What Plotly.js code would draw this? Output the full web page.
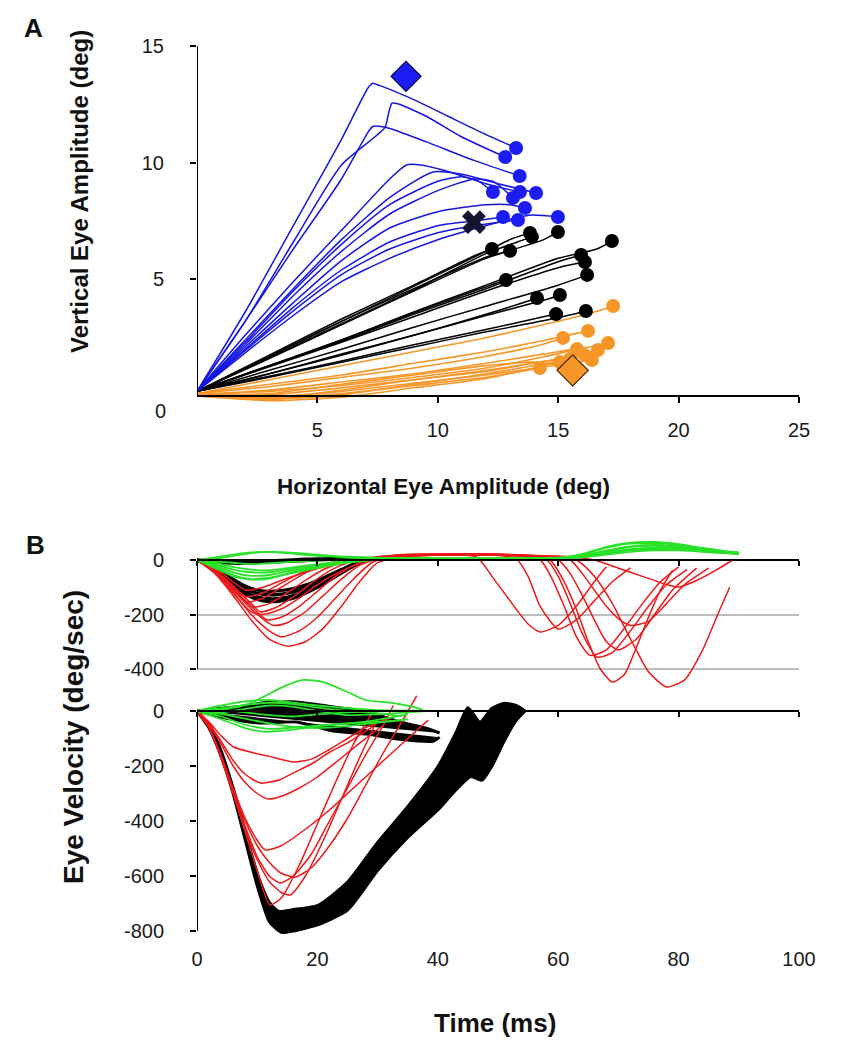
<!DOCTYPE html>
<html><head><meta charset="utf-8">
<script src="https://cdn.plot.ly/plotly-3.0.1.min.js"></script>
<style>html,body{margin:0;padding:0;background:#fff}#chart{width:847px;height:1050px}</style>
</head><body><div id="chart"></div>
<script>
// ================= Panel A : eye amplitude trajectories (deg) =================
const blueX = [
 [0,2,4,6,7.1,7.3,7.6,9,10.4,11.8,13.25],
 [0,2,4,6,7.8,7.95,8.1,8.4,9.5,11,12.8],
 [0,2,4,6,7.1,7.3,7.9,9.5,11.5,13.4],
 [0,2,4,6,8,8.7,9.3,10.5,12,13.41],
 [0,2,4,6,8,9.8,11,12.5,14.08],
 [0,2,4,6,8,10,11,11.7,12.29],
 [0,2,4,6,8,10,11.5,12.3,13.12],
 [0,2,4,6,8,10,12,13,13.62],
 [0,2,4,6,8,10,11.5,12.71],
 [0,2,4,6,8,10,11.5,13.33],
 [0,2,4,6,8,10,12,13.8,14.99]
];
const blueY = [
 [0.2,3.6,7.3,11,13.2,13.4,13.3,12.7,12,11.3,10.63],
 [0.2,3.2,6.6,9.9,11.5,12.1,12.55,12.5,12,11.1,10.24],
 [0.2,3.2,6.3,9.3,11.3,11.55,11.5,10.9,10.1,9.43],
 [0.2,2.6,4.9,7.1,9.3,9.9,9.9,9.6,9.1,8.74],
 [0.2,2.4,4.6,6.7,8.5,9.6,9.5,9.1,8.7],
 [0.2,2.3,4.5,6.5,8.2,9.2,9.4,9.2,8.74],
 [0.2,2.2,4.3,6.2,7.8,8.8,9.3,9.2,8.49],
 [0.2,2.1,4.0,5.8,7.2,7.9,8.2,8.2,8.06],
 [0.2,2.0,3.8,5.4,6.6,7.3,7.5,7.67],
 [0.2,1.95,3.65,5.2,6.3,7.0,7.3,7.54],
 [0.2,1.85,3.45,4.9,5.9,6.7,7.3,7.75,7.67]
];
const blackX = [
 [0,3,6,9,12,13.1,13.83],
 [0,3,6,9,12,13.3,13.91],
 [0,3,6,9,12,14.4,14.99],
 [0,3,6,9,11.5,12.25],
 [0,3,6,9,12,13.0],
 [0,3,6,9,12,15,16.6,17.23],
 [0,3,6,9,12,15,15.95],
 [0,3,6,9,12,15,16.11],
 [0,3,6,9,12,15,16.2],
 [0,3,6,9,11.5,12.83],
 [0,3,6,9,12,13.4,14.12],
 [0,3,6,9,12,14.4,15.07],
 [0,3,6,9,12,14.2,14.91],
 [0,3,6,9,12,15,16.15]
];
const blackY = [
 [0.2,1.7,3.2,4.7,6.2,6.75,6.99],
 [0.2,1.65,3.1,4.55,6.1,6.6,6.82],
 [0.2,1.6,3.05,4.5,5.9,6.7,7.03],
 [0.2,1.75,3.3,4.75,6.0,6.3],
 [0.2,1.7,3.2,4.6,5.95,6.22],
 [0.2,1.3,2.4,3.6,4.75,5.9,6.3,6.64],
 [0.2,1.3,2.35,3.5,4.6,5.75,6.04],
 [0.2,1.25,2.3,3.4,4.5,5.5,5.74],
 [0.2,1.1,2.0,2.95,3.85,4.75,5.19],
 [0.2,1.3,2.4,3.55,4.5,4.97],
 [0.2,0.95,1.8,2.6,3.5,3.95,4.2],
 [0.2,0.95,1.75,2.6,3.45,4.1,4.33],
 [0.2,0.85,1.5,2.2,2.85,3.35,3.51],
 [0.2,0.8,1.45,2.1,2.75,3.35,3.64]
];
const orangeX = [
 [0,3,6,9,12,15,16.5,17.28],
 [0,3,6,9,12,14.5,16.24],
 [0,3,6,9,12,14.3,15.2],
 [0,3,6,9,12,15,16.3,17.07],
 [0,3,6,9,12,14.5,15.78],
 [0,3,6,9,12,15,16.65],
 [0,3,6,9,12,14.5,16.4],
 [0,3,6,9,12,14.24],
 [0,3,6,9,12,14.5,16.1],
 [0,3,6,9,12,15.07],
 [0,3,6,9,12,14.5,15.5],
 [0,3,6,9,12,14,15.2]
];
const orangeY = [
 [0.1,0.7,1.3,1.9,2.5,3.2,3.6,3.86],
 [0.1,0.5,0.9,1.4,1.9,2.4,2.79],
 [0.1,0.4,0.8,1.2,1.7,2.2,2.49],
 [0.05,0.25,0.6,0.95,1.4,1.9,2.1,2.27],
 [0.05,0.2,0.45,0.8,1.2,1.7,2.01],
 [0.0,0.05,0.35,0.7,1.1,1.6,1.97],
 [0.0,-0.05,0.2,0.55,0.9,1.25,1.54],
 [0.0,-0.12,0.1,0.45,0.8,1.2],
 [0.0,-0.15,0.05,0.5,0.95,1.4,1.75],
 [0.0,-0.2,-0.05,0.35,0.75,1.46],
 [0.0,-0.1,0.25,0.7,1.05,1.5,1.6],
 [0.05,0.1,0.5,0.9,1.3,1.45,1.3]
];
const diamondX = [8.68, 15.6];
const diamondY = [13.7, 1.1];
const crossX = [23.7, 11.5];
const crossY = [15.1, 7.45];

// ================= Panel B : eye velocity (deg/sec) vs time (ms) =================
// upper subplot
const blackUpT = [0,2,4,6,8,10,12,14,16,18,20,22,24,26,28];
const blackUpV = [
 [0,-15,-40,-70,-95,-110,-115,-112,-105,-92,-75,-55,-35,-15,0],
 [0,-17,-45,-78,-105,-122,-128,-125,-117,-102,-84,-62,-40,-18,0],
 [0,-19,-50,-86,-116,-135,-142,-140,-130,-114,-94,-70,-45,-20,0],
 [0,-20,-53,-92,-124,-145,-153,-150,-140,-122,-100,-75,-48,-22,0],
 [0,-5,-10,-12,-12,-10,-8,-6,-4,-2,0,2,3,3,3],
 [0,-3,-5,-6,-6,-5,-3,-1,1,3,4,5,5,5,5]
];
const redUpT = [
 [0,3,6,9,12,15,18,21,24,27,30,34,40,46.5,49,52,55,57,60,63,66,68],
 [0,3,6,9,12,14,17,20,23,26,29,33,40,48,53,55,57,60,63,66,69,72],
 [0,3,6,9,12.7,15,18,21,24,27,32,40,50,57,59,61,63,65.3,68,71,74,77,80],
 [0,3,6,9,11.6,14,17,20,23,26,30,40,50,58,60,62,64,66.4,69,72,75,78,81.4],
 [0,3,6,9,10.5,13,16,19,22,25,30,40,50,58.6,61,63,65,67,69,71,73,75,77,79],
 [0,3,6,9.3,12,15,18,21,24,28,35,45,55,63,66,69,72,75,78,81,84,86.5,88.5],
 [0,3,6,8.3,11,14,17,20,24,30,40,50,60,62,64,66,68,70,73,76,79,83],
 [0,3,6,8,11,14,17,20,25,30,40,50,60,66,70,74,78,80,83,86,89],
 [0,3,6,8,11,14,18,22,26,30,36,40],
 [0,3,6,9,11,14,17,20,24,28,35,45,55,62,64,66,68,70,72,75,78,81,85]
];
const redUpV = [
 [0,-50,-130,-220,-290,-316,-300,-250,-170,-80,-10,15,20,10,-60,-150,-235,-264,-240,-170,-80,-25],
 [0,-45,-120,-200,-260,-282,-260,-210,-140,-70,-10,18,22,20,5,-60,-170,-253,-220,-150,-80,-29],
 [0,-40,-110,-180,-240,-230,-190,-130,-70,-20,15,22,20,0,-70,-170,-280,-350,-330,-250,-160,-80,-25],
 [0,-40,-105,-170,-220,-210,-170,-115,-60,-20,10,20,22,2,-60,-160,-270,-356,-340,-260,-170,-90,-35],
 [0,-35,-95,-160,-190,-175,-135,-85,-40,-10,12,20,20,0,-80,-180,-300,-400,-448,-420,-320,-210,-110,-37],
 [0,-40,-110,-172,-160,-120,-75,-35,-10,5,15,18,15,0,-60,-160,-290,-410,-466,-440,-330,-200,-99],
 [0,-40,-110,-154,-140,-100,-60,-25,-5,10,18,18,0,-50,-130,-220,-300,-330,-290,-200,-110,-30],
 [0,-35,-100,-135,-120,-85,-50,-20,0,10,18,18,15,0,-30,-60,-90,-99,-75,-40,0],
 [0,-30,-80,-110,-100,-75,-45,-20,-5,8,15,18],
 [0,-40,-120,-190,-200,-180,-140,-90,-40,-5,15,20,18,0,-50,-110,-170,-215,-240,-225,-160,-90,-30]
];
const greenUpT = [0,3,6,9,12,15,20,25,30,40,50,60,64,68,72,76,80,84,88,90];
const greenUpV = [
 [0,-25,-55,-70,-65,-50,-25,-8,2,6,6,8,20,45,60,62,55,42,30,28],
 [0,-15,-35,-45,-45,-35,-18,-5,3,6,5,6,15,35,50,55,50,40,30,25],
 [0,5,15,25,30,28,20,12,8,6,6,8,18,30,40,45,45,38,30,25],
 [0,-10,-25,-35,-38,-30,-15,-3,4,6,6,7,12,25,38,42,40,32,25,22],
 [0,10,20,28,30,25,15,10,7,5,5,6,10,20,30,35,35,30,25,22],
 [0,-20,-45,-58,-55,-42,-22,-8,2,5,5,6,14,32,48,52,46,36,28,24],
 [0,-5,-10,-15,-12,-8,-2,2,5,6,5,6,10,22,35,40,40,33,27,24],
 [0,-30,-60,-72,-68,-52,-30,-10,1,5,5,7,22,48,64,66,58,44,32,28]
];
// lower subplot: black trials form two dense bands (inner edge, outer edge)
const bandMainInnerT = [0,2,4,6,8,10,12,13.5,16,20,25,30,35,40,43,45,47,49,51,53,54.5];
const bandMainInnerV = [0,-50,-145,-280,-435,-590,-695,-728,-722,-708,-622,-478,-348,-203,-80,12,-40,10,28,20,0];
const bandMainOuterT = [0,2,4,6,8,10,12,14,16,18,20,25,30,35,40,43,45.5,47.3,49,51,53,54.5];
const bandMainOuterV = [0,-62,-165,-300,-468,-635,-765,-805,-800,-790,-778,-724,-580,-460,-360,-287,-238,-252,-200,-110,-35,0];
const bandSmallUpperT = [0,4,8,11,16.5,22.6,28.2,33.7,38,40.3];
const bandSmallUpperV = [0,10,18,30,33,15,-3,-40,-62,-80];
const bandSmallLowerT = [0,4,8,11,16.5,22.6,28.2,33.7,39.2,40.3];
const bandSmallLowerV = [0,-22,-38,-44,-40,-73,-84,-103,-110,-95];
const redLowT = [
 [0,2,4,6,9,12,15.9,19,22,25,28,30.5,32.6],
 [0,2,4,6,8,10.5,13.8,16,19.3,22,25,29.2],
 [0,2,4,6,8,10,11.8,14,17,20,24,28,31],
 [0,2,4,6,8,10,11.3,14,18,22,26,30,34,38.4],
 [0,2,4,6,8,10,12,13.8,16,19,22,25,28,31,32.6],
 [0,2,4,6,8,10,12,14,16.3,19,22,25,28,31,34,36.5],
 [0,2,4,6,8,10,12,14,15.5,18,21,24,27,30],
 [0,2,4,6,8,10,12.1,14,17,20,23,26,29]
];
const redLowV = [
 [0,-40,-90,-130,-150,-165,-185,-175,-140,-100,-60,-38,-22],
 [0,-45,-110,-180,-230,-262,-250,-225,-189,-150,-116,-57],
 [0,-50,-120,-200,-260,-300,-320,-310,-280,-240,-170,-100,-50],
 [0,-60,-160,-280,-390,-470,-505,-490,-430,-360,-280,-200,-120,-33],
 [0,-60,-170,-300,-420,-530,-600,-625,-600,-520,-400,-280,-160,-50,20],
 [0,-60,-165,-290,-400,-490,-550,-590,-604,-570,-490,-390,-270,-150,-40,55],
 [0,-60,-170,-300,-430,-540,-620,-660,-669,-600,-470,-320,-170,-30],
 [0,-60,-170,-300,-440,-580,-705,-680,-560,-410,-260,-120,-10]
];
const greenLowT = [
 [0,4,7,10,14,17.6,21,25,28,32.6,36,37.5],
 [0,4,8,12,16,20,25,30,35,40],
 [0,4,8,12,16,20,25,30,35],
 [0,4,8,12,16,20,25,30,34.2],
 [0,4,8,12,16,20,25,30,35,39],
 [0,4,8,12,16,20,25,30,35,38],
 [0,4,8,11.6,15,20,25,30,35],
 [0,4,8,12,16,20,25,30,34]
];
const greenLowV = [
 [0,8,15,40,85,113,105,69,40,29,15,4],
 [0,20,35,40,30,20,10,3,0,0],
 [0,-10,-28,-45,-58,-62,-55,-42,-30],
 [0,-20,-50,-65,-60,-52,-45,-40,-33],
 [0,5,-5,-15,-20,-12,-5,0,2,0],
 [0,-5,8,20,15,0,-15,-12,-5,0],
 [0,-30,-62,-76,-70,-56,-46,-32,-12],
 [0,10,22,30,25,12,0,-8,-20]
];

const xTicksA = [5,10,15,20,25];
const yTicksA = [5,10,15];
const tTicks = [0,20,40,60,80,100];
const vTicksUp = [0,-200,-400];
const vTicksLow = [0,-200,-400,-600,-800];

// ================= styling / layout =================
const BLUE='rgb(22,22,225)', BLUEDOT='rgb(28,28,245)', ORANGE='rgb(247,150,40)', BLACK='#000';
const RED='rgb(235,25,25)', GREEN='rgb(40,225,40)';
const W=847, H=1050;
const fx = p => p/W, fy = p => 1 - p/H;
const xDom = [fx(197), fx(799)];
const aZero = fy(396), aUnit = (fy(46)-fy(396))/15, aMin = -0.45, aMax = 15;
const bZero = fy(560), bUnit = (109/400)/H, bMin=-480, bMax=80;
const cZero = fy(711), cUnit = (220/800)/H, cMin=-830, cMax=130;

const traces = [];
const sp = {shape:'spline', smoothing:0.6};
function lines(X, Y, color, width, xa, ya){
  X.forEach((xs,i)=>traces.push({type:'scatter', mode:'lines', x:xs, y:Y[i], xaxis:xa, yaxis:ya,
      line:Object.assign({color:color, width:width}, sp), hoverinfo:'skip'}));
}
function linesSharedT(T, V, color, width, xa, ya){
  V.forEach(v=>traces.push({type:'scatter', mode:'lines', x:T, y:v, xaxis:xa, yaxis:ya,
      line:Object.assign({color:color, width:width}, sp), hoverinfo:'skip'}));
}
function band(T1, V1, T2, V2, xa, ya){
  traces.push({type:'scatter', mode:'lines', x:T1, y:V1, xaxis:xa, yaxis:ya,
    line:Object.assign({color:BLACK, width:3}, sp), hoverinfo:'skip'});
  traces.push({type:'scatter', mode:'lines', x:T2, y:V2, xaxis:xa, yaxis:ya,
    fill:'tonext', fillcolor:BLACK, line:Object.assign({color:BLACK, width:3}, sp), hoverinfo:'skip'});
}
function ends(X, Y, color, size){
  traces.push({type:'scatter', mode:'markers', x:X.map(a=>a[a.length-1]), y:Y.map(a=>a[a.length-1]),
    xaxis:'x', yaxis:'y', cliponaxis:false, marker:{color:color, size:size, opacity:1, line:{width:0}}, hoverinfo:'skip'});
}
// Panel A
lines(orangeX, orangeY, ORANGE, 1.6, 'x', 'y');
lines(blackX, blackY, BLACK, 1.5, 'x', 'y');
lines(blueX, blueY, BLUE, 1.5, 'x', 'y');
ends(orangeX, orangeY, ORANGE, 14);
ends(blackX, blackY, BLACK, 14);
ends(blueX, blueY, BLUEDOT, 14);
traces.push({type:'scatter', mode:'markers', x:diamondX, y:diamondY, xaxis:'x', yaxis:'y', cliponaxis:false,
  marker:{symbol:'diamond', size:[23,24], opacity:1, color:[BLUEDOT, ORANGE], line:{color:['#00004a','#4a2400'], width:1.2}}, hoverinfo:'skip'});
traces.push({type:'scatter', mode:'markers', x:crossX, y:crossY, xaxis:'x', yaxis:'y', cliponaxis:false,
  marker:{symbol:'x', size:[24,21], opacity:1, color:['#000','#141430'], line:{width:0}}, hoverinfo:'skip'});
// Panel B upper
linesSharedT(blackUpT, blackUpV, BLACK, 3.2, 'x2', 'y2');
lines(redUpT, redUpV, RED, 1.5, 'x2', 'y2');
linesSharedT(greenUpT, greenUpV, GREEN, 1.8, 'x2', 'y2');
// Panel B lower (black + red on bottom-labelled axis x4, green on the zero-line axis x3)
band(bandMainInnerT, bandMainInnerV, bandMainOuterT, bandMainOuterV, 'x4', 'y3');
band(bandSmallUpperT, bandSmallUpperV, bandSmallLowerT, bandSmallLowerV, 'x4', 'y3');
lines(redLowT, redLowV, RED, 1.5, 'x4', 'y3');
lines(greenLowT, greenLowV, GREEN, 1.8, 'x3', 'y3');

const FAM = 'Liberation Sans, Arial, sans-serif';
const tickFont = {family:FAM, size:20, color:'#1a1a1a'};
const ax = {showgrid:false, zeroline:false, fixedrange:true, tickfont:tickFont, tickcolor:'#000', tickwidth:2};
const ann = (text, x, y, size, angle) => ({text:text, xref:'paper', yref:'paper', x:fx(x), y:fy(y),
  xanchor:'center', yanchor:'middle', textangle:angle||0, showarrow:false, font:{family:FAM, size:size, color:'#111'}});

const layout = {
  width:W, height:H, margin:{l:0,r:0,t:0,b:0}, showlegend:false,
  paper_bgcolor:'#fff', plot_bgcolor:'rgba(0,0,0,0)',
  font:{family:FAM},
  xaxis: Object.assign({}, ax, {domain:xDom, range:[0,25], anchor:'free', position:aZero,
    showline:true, linecolor:'#000', linewidth:2, ticks:'outside', ticklen:6,
    tickvals:xTicksA, ticktext:xTicksA.map(String), ticklabelstandoff:10}),
  yaxis: Object.assign({}, ax, {domain:[aZero+aMin*aUnit, aZero+aMax*aUnit], range:[aMin,aMax], anchor:'x',
    showline:false, ticks:'outside', ticklen:6, tickvals:yTicksA, ticktext:yTicksA.map(String), ticklabelstandoff:22}),
  xaxis2: Object.assign({}, ax, {domain:xDom, range:[0,100], anchor:'free', position:bZero,
    showline:true, linecolor:'#000', linewidth:2, ticks:'outside', ticklen:5,
    tickvals:tTicks, showticklabels:false}),
  yaxis2: Object.assign({}, ax, {domain:[bZero+bMin*bUnit, bZero+bMax*bUnit], range:[bMin,bMax], anchor:'x2',
    showline:false, ticks:'outside', ticklen:6, tickvals:vTicksUp, ticktext:vTicksUp.map(String),
    showgrid:true, gridcolor:'#bdbdbd', gridwidth:2, ticklabelstandoff:22}),
  xaxis4: Object.assign({}, ax, {domain:xDom, range:[0,100], anchor:'y3', side:'bottom',
    showline:false, ticks:'', tickvals:tTicks, ticktext:tTicks.map(String), ticklabelstandoff:6}),
  xaxis3: Object.assign({}, ax, {domain:xDom, range:[0,100], anchor:'free', position:cZero, overlaying:'x4',
    showline:true, linecolor:'#000', linewidth:2, ticks:'outside', ticklen:5,
    tickvals:tTicks, showticklabels:false}),
  yaxis3: Object.assign({}, ax, {domain:[cZero+cMin*cUnit, cZero+cMax*cUnit], range:[cMin,cMax], anchor:'x4',
    showline:false, ticks:'outside', ticklen:6, tickvals:vTicksLow, ticktext:vTicksLow.map(String), ticklabelstandoff:22}),
  shapes:[
    {type:'line', xref:'x', yref:'y', x0:0, x1:0, y0:0, y1:15, line:{color:'#000', width:2}},
    {type:'line', xref:'x2', yref:'y2', x0:0, x1:0, y0:-400, y1:0, line:{color:'#000', width:2}},
    {type:'line', xref:'x4', yref:'y3', x0:0, x1:0, y0:-800, y1:0, line:{color:'#000', width:2}}
  ],
  annotations:[
    ann('<b>A</b>', 33, 28, 26),
    ann('<b>B</b>', 35, 545, 26),
    Object.assign(ann('0', 168, 411, 20), {xanchor:'right', font:tickFont}),
    ann('<b>Vertical Eye Amplitude (deg)</b>', 80, 192, 24, -90),
    ann('<b>Horizontal Eye Amplitude (deg)</b>', 443, 486, 22.5),
    ann('<b>Eye Velocity (deg/sec)</b>', 73, 737, 28, -90),
    ann('<b>Time (ms)</b>', 495, 1023, 26)
  ]
};
Plotly.newPlot('chart', traces, layout, {staticPlot:true, displayModeBar:false});
</script></body></html>
